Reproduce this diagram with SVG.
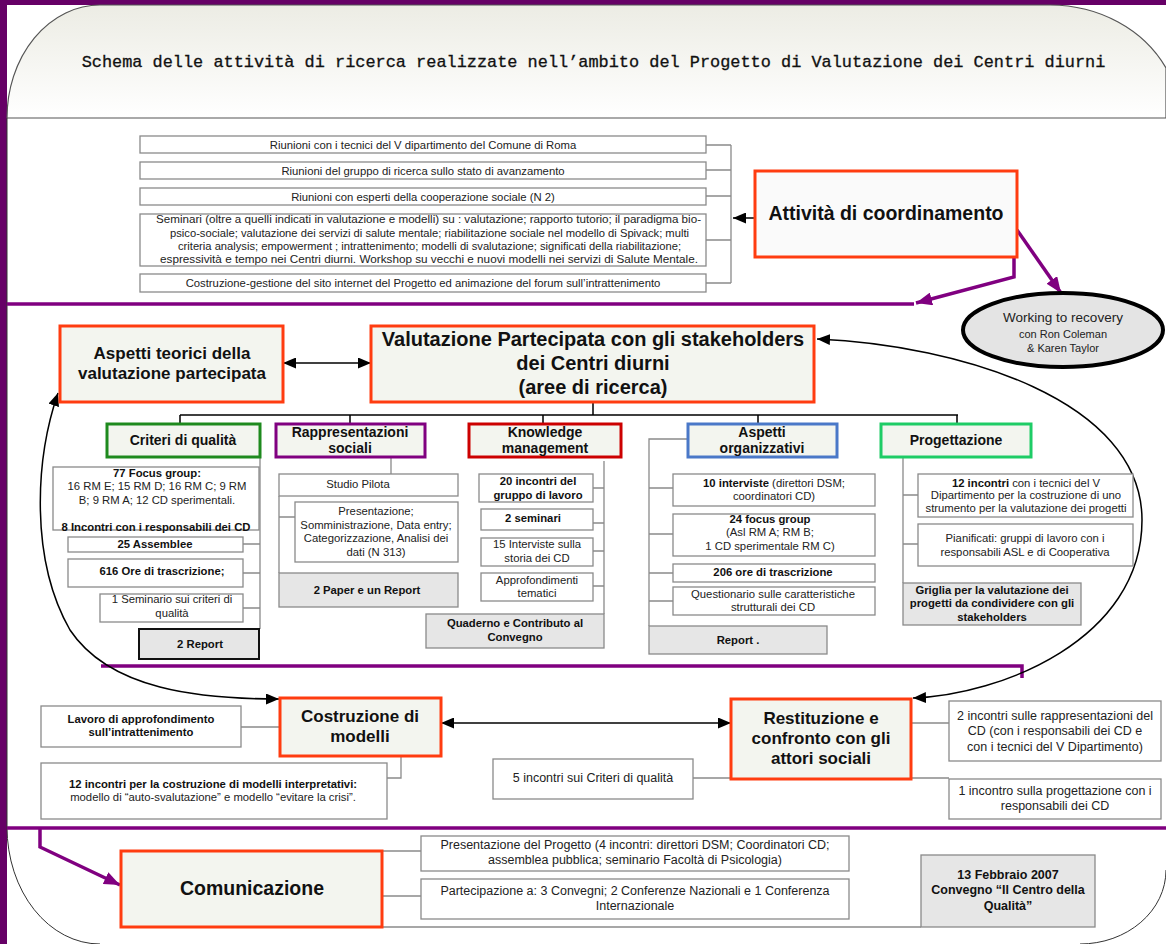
<svg xmlns="http://www.w3.org/2000/svg" width="1166" height="944" viewBox="0 0 1166 944">
<defs>
<linearGradient id="tg" x1="0" y1="0" x2="0" y2="1">
<stop offset="0" stop-color="#ecece4"/>
<stop offset="1" stop-color="#ffffff"/>
</linearGradient>
<marker id="ab" markerUnits="userSpaceOnUse" markerWidth="14" markerHeight="11" refX="13" refY="5.5" orient="auto-start-reverse"><path d="M0,0 L13,5.5 L0,11 z" fill="#000"/></marker>
<marker id="ap" markerUnits="userSpaceOnUse" markerWidth="17" markerHeight="13" refX="16" refY="6.5" orient="auto"><path d="M0,0 L16,6.5 L0,13 z" fill="#800080"/></marker>
<style>
.t{font-family:"Liberation Sans",Arial,sans-serif;font-size:11.3px;fill:#222;text-anchor:middle}
.m{font-size:12.5px}
.b{font-weight:bold;fill:#111}
.h{font-family:"Liberation Sans",Arial,sans-serif;font-weight:bold;fill:#111;text-anchor:middle}
.box{fill:#fff;stroke:#8a8a8a;stroke-width:1.3}
.gbox{fill:#e6e6e6;stroke:#8a8a8a;stroke-width:1.3}
.main{fill:#f3f5ef;stroke:#ff3c10;stroke-width:3}
.hd{fill:#f3f5ef;stroke-width:3}
.conn{stroke:#8a8a8a;stroke-width:1.3;fill:none}
.blk{stroke:#000;stroke-width:1.5;fill:none}
.pl{stroke:#800080;stroke-width:3.5;fill:none}
</style>
</defs>
<rect x="0" y="0" width="1166" height="944" fill="#fff"/>
<rect x="0" y="0" width="1166" height="5" fill="#660066"/>
<rect x="0" y="0" width="7" height="944" fill="#660066"/>
<g id="frame">
<path d="M7 118 A93 113 0 0 1 100 5 L1050 5 A130 115 0 0 1 1166 68 L1166 118 Z" fill="url(#tg)" stroke="#555" stroke-width="1.2"/>
<path d="M7 118 L7 827 A93 117 0 0 0 100 944" fill="none" stroke="#333" stroke-width="1"/>
<path d="M1166 870 A86 74 0 0 1 1080 944" fill="none" stroke="#333" stroke-width="1"/>
<text x="593.5" y="67" style="font-family:'Liberation Mono','Courier New',monospace;font-size:16.9px;fill:#111;stroke:#111;stroke-width:0.3" text-anchor="middle">Schema delle attività di ricerca realizzate nell’ambito del Progetto di Valutazione dei Centri diurni</text>
</g>
<g id="connectors">
<path class="pl" d="M7 304 L914 304"/>
<path class="pl" d="M1014 257 L1014 277 L916 303" marker-end="url(#ap)"/>
<path class="pl" d="M1017 230 L1061 293" marker-end="url(#ap)"/>
<path class="pl" d="M101 666 L1022 666 L1022 678"/>
<path class="pl" d="M7 828 L1166 828"/>
<path class="pl" d="M40 829 L40 847 L120 885" marker-end="url(#ap)"/>
<path class="conn" d="M706 145 H731 M706 170 H731 M706 196 H731 M706 240 H731 M706 283 H731 M731 145 V283"/>
<path class="blk" d="M755 218 L733 218" marker-end="url(#ab)"/>
<path class="blk" d="M283 363 L371 363" marker-start="url(#ab)" marker-end="url(#ab)"/>
<path class="blk" d="M593 402 V415 M180 415 H958 M180 415 V423 M350 415 V423 M543 415 V423 M758 415 V423 M957 415 V423"/>
<path class="conn" d="M260 457 V629 M243 544 H260 M243 573 H260 M243 608 H260"/>
<path class="conn" d="M391 457 V474 M279 496 V573 M279 517 H295"/>
<path class="conn" d="M604 461 V614 M593 488 H604 M593 523 H604 M593 551 H604 M593 586 H604"/>
<path class="conn" d="M688 439 H649 V626 M649 488 H673 M649 534 H673 M649 573 H673 M649 601 H673"/>
<path class="conn" d="M903 457 V583 M903 495 H918 M903 544 H918"/>
<path class="blk" d="M817 339 C960 345 1142 400 1142 520 C1142 640 1000 695 913 698" marker-start="url(#ab)" marker-end="url(#ab)"/>
<path class="blk" d="M58 393 C35 460 30 560 70 630 C110 690 200 699 279 699" marker-start="url(#ab)" marker-end="url(#ab)"/>
<path class="blk" d="M441 723 L731 723" marker-start="url(#ab)" marker-end="url(#ab)"/>
<path class="conn" d="M241 727 H280 M401 756 V778 H387 M693 778 H731 M911 778 H949 M911 723 H949"/>
<path class="conn" d="M382 851 H421 M382 896 H421 M382 927 H921"/>
</g>
<g id="n-list">
<rect class="box" x="140" y="136" width="566" height="17"/>
<text class="t" x="423" y="148.5">Riunioni con i tecnici del V dipartimento del Comune di Roma</text>
<rect class="box" x="140" y="162" width="566" height="17"/>
<text class="t" x="423" y="174.5">Riunioni del gruppo di ricerca  sullo stato di avanzamento</text>
<rect class="box" x="140" y="188" width="566" height="17"/>
<text class="t" x="423" y="200.5">Riunioni con esperti della cooperazione sociale (N 2)</text>
<rect class="box" x="140" y="214" width="566" height="52"/>
<text class="t" x="156" y="223" style="text-anchor:start" textLength="545" lengthAdjust="spacingAndGlyphs">Seminari  (oltre a quelli indicati in valutazione e modelli) su : valutazione; rapporto tutorio; il paradigma bio-</text>
<text class="t" x="170" y="237" style="text-anchor:start" textLength="519" lengthAdjust="spacingAndGlyphs">psico-sociale; valutazione dei servizi di salute mentale; riabilitazione sociale nel modello di Spivack; multi</text>
<text class="t" x="178" y="250" style="text-anchor:start" textLength="503" lengthAdjust="spacingAndGlyphs">criteria analysis; empowerment ; intrattenimento; modelli di svalutazione; significati della riabilitazione;</text>
<text class="t" x="160" y="263" style="text-anchor:start" textLength="538" lengthAdjust="spacingAndGlyphs">espressività e tempo nei Centri diurni.  Workshop su vecchi e nuovi modelli nei servizi di Salute Mentale.</text>
<rect class="box" x="140" y="274" width="566" height="18"/>
<text class="t" x="423" y="287">Costruzione-gestione del sito internet del Progetto ed animazione del forum sull’intrattenimento</text>
</g>
<g id="n-coord">
<rect x="755" y="171" width="262" height="86" fill="#fafafa" stroke="#ff3c10" stroke-width="3"/>
<text class="h" x="886" y="220" style="font-size:19.5px">Attività di coordinamento</text>
</g>
<g id="n-recovery">
<ellipse cx="1063" cy="330" rx="100" ry="37" fill="#e4e4e4" stroke="#000" stroke-width="4"/>
<text class="t" x="1063" y="322" style="font-size:13.5px">Working to recovery</text>
<text class="t" x="1063" y="338" style="font-size:11px">con Ron Coleman</text>
<text class="t" x="1063" y="352" style="font-size:11px">&amp; Karen Taylor</text>
</g>
<g id="n-teorici">
<rect class="main" x="60" y="326" width="223" height="76"/>
<text class="h" x="172" y="359" style="font-size:17px">Aspetti teorici della</text>
<text class="h" x="172" y="379" style="font-size:17px">valutazione partecipata</text>
</g>
<g id="n-valutazione">
<rect class="main" x="371" y="326" width="443" height="76"/>
<text class="h" x="593" y="346" style="font-size:20px">Valutazione Partecipata con gli stakeholders</text>
<text class="h" x="593" y="370" style="font-size:20px">dei Centri diurni</text>
<text class="h" x="593" y="394" style="font-size:20px">(aree di ricerca)</text>
</g>
<g id="n-criteri">
<rect class="hd" x="107" y="424" width="153" height="33" stroke="#1e8a1e"/>
<text class="h" x="183" y="445" style="font-size:14px">Criteri di qualità</text>
<rect class="box" x="53" y="467" width="206" height="63"/>
<text class="t b" x="157" y="477">77 Focus group:</text>
<text class="t" x="157" y="490">16 RM E; 15 RM D; 16 RM C; 9 RM</text>
<text class="t" x="157" y="504">B; 9 RM A; 12 CD sperimentali.</text>
<text class="t b" x="156" y="531">8 Incontri con i responsabili dei CD</text>
<rect class="box" x="68" y="537" width="175" height="15"/>
<text class="t b" x="155" y="548">25 Assemblee</text>
<rect class="box" x="68" y="559" width="175" height="28"/>
<text class="t b" x="162" y="575">616 Ore di trascrizione;</text>
<rect class="box" x="100" y="594" width="143" height="28"/>
<text class="t" x="172" y="603">1 Seminario sui criteri di</text>
<text class="t" x="172" y="617">qualità</text>
<rect x="139" y="629" width="120" height="30" fill="#e6e6e6" stroke="#111" stroke-width="2"/>
<text class="t b" x="200" y="648">2 Report</text>
</g>
<g id="n-rappresentazioni">
<rect class="hd" x="276" y="424" width="149" height="33" stroke="#800080"/>
<text class="h" x="350" y="437" style="font-size:14px">Rappresentazioni</text>
<text class="h" x="350" y="453" style="font-size:14px">sociali</text>
<rect class="box" x="279" y="474" width="179" height="22"/>
<text class="t" x="358" y="488">Studio Pilota</text>
<rect class="box" x="295" y="502" width="163" height="60"/>
<text class="t" x="376" y="515">Presentazione;</text>
<text class="t" x="376" y="529">Somministrazione, Data entry;</text>
<text class="t" x="376" y="542">Categorizzazione, Analisi dei</text>
<text class="t" x="376" y="556">dati (N 313)</text>
<rect class="gbox" x="279" y="573" width="179" height="34"/>
<text class="t b" x="367" y="594">2 Paper e un Report</text>
</g>
<g id="n-knowledge">
<rect class="hd" x="469" y="424" width="152" height="33" stroke="#cc0000"/>
<text class="h" x="545" y="437" style="font-size:14px">Knowledge</text>
<text class="h" x="545" y="453" style="font-size:14px">management</text>
<rect class="box" x="479" y="474" width="114" height="28"/>
<text class="t b" x="538" y="485">20 incontri del</text>
<text class="t b" x="538" y="499">gruppo di lavoro</text>
<rect class="box" x="481" y="509" width="112" height="21"/>
<text class="t b" x="533" y="522">2 seminari</text>
<rect class="box" x="481" y="538" width="112" height="28"/>
<text class="t" x="537" y="548">15 Interviste sulla</text>
<text class="t" x="537" y="562">storia dei CD</text>
<rect class="box" x="481" y="573" width="112" height="28"/>
<text class="t" x="537" y="584">Approfondimenti</text>
<text class="t" x="537" y="597">tematici</text>
<rect class="gbox" x="426" y="614" width="178" height="34"/>
<text class="t b" x="515" y="627">Quaderno e Contributo al</text>
<text class="t b" x="515" y="641">Convegno</text>
</g>
<g id="n-organizzativi">
<rect class="hd" x="688" y="424" width="149" height="33" stroke="#4a78c8"/>
<text class="h" x="762" y="437" style="font-size:14px">Aspetti</text>
<text class="h" x="762" y="453" style="font-size:14px">organizzativi</text>
<rect class="box" x="673" y="474" width="202" height="32"/>
<text class="t" x="774" y="487"><tspan class="b">10 interviste</tspan> (direttori DSM;</text>
<text class="t" x="774" y="500">coordinatori CD)</text>
<rect class="box" x="673" y="514" width="202" height="42"/>
<text class="t b" x="770" y="523">24 focus group</text>
<text class="t" x="770" y="536">(Asl RM A; RM B;</text>
<text class="t" x="770" y="550">1 CD sperimentale RM C)</text>
<rect class="box" x="673" y="564" width="202" height="18"/>
<text class="t b" x="773" y="576">206 ore di trascrizione</text>
<rect class="box" x="673" y="587" width="202" height="28"/>
<text class="t" x="773" y="598">Questionario sulle caratteristiche</text>
<text class="t" x="773" y="611">strutturali dei CD</text>
<rect class="gbox" x="649" y="626" width="178" height="28"/>
<text class="t b" x="738" y="644">Report .</text>
</g>
<g id="n-progettazione">
<rect class="hd" x="881" y="424" width="150" height="33" stroke="#1ecc66"/>
<text class="h" x="956" y="445" style="font-size:14px">Progettazione</text>
<rect class="box" x="918" y="474" width="215" height="43"/>
<text class="t" x="1026" y="487"><tspan class="b">12 incontri</tspan> con i tecnici del V</text>
<text class="t" x="1026" y="499">Dipartimento per la costruzione di uno</text>
<text class="t" x="1026" y="512">strumento per la valutazione dei progetti</text>
<rect class="box" x="918" y="524" width="215" height="42"/>
<text class="t" x="1025" y="542">Pianificati:  gruppi di lavoro con i</text>
<text class="t" x="1025" y="556">responsabili ASL e di Cooperativa</text>
<rect class="gbox" x="903" y="583" width="178" height="42"/>
<text class="t b" x="992" y="594">Griglia per la valutazione dei</text>
<text class="t b" x="992" y="607">progetti da condividere con gli</text>
<text class="t b" x="992" y="621">stakeholders</text>
</g>
<g id="n-costruzione">
<rect class="main" x="280" y="698" width="161" height="58"/>
<text class="h" x="360" y="722" style="font-size:17px">Costruzione di</text>
<text class="h" x="360" y="742" style="font-size:17px">modelli</text>
<rect class="box" x="41" y="706" width="200" height="41"/>
<text class="t b" x="141" y="723">Lavoro di approfondimento</text>
<text class="t b" x="141" y="736">sull’intrattenimento</text>
<rect class="box" x="41" y="763" width="346" height="56"/>
<text class="t b" x="213" y="788">12 incontri per la costruzione di modelli interpretativi:</text>
<text class="t" x="213" y="801">modello di “auto-svalutazione” e modello “evitare la crisi”.</text>
</g>
<g id="n-restituzione">
<rect class="main" x="731" y="699" width="180" height="80"/>
<text class="h" x="821" y="724" style="font-size:17px">Restituzione e</text>
<text class="h" x="821" y="744" style="font-size:17px">confronto con gli</text>
<text class="h" x="821" y="764" style="font-size:17px">attori sociali</text>
<rect class="box" x="493" y="759" width="200" height="40"/>
<text class="t m" x="593" y="782">5 incontri sui Criteri di qualità</text>
<rect class="box" x="949" y="701" width="212" height="60"/>
<text class="t m" x="1055" y="719.5">2 incontri sulle rappresentazioni del</text>
<text class="t m" x="1055" y="734.5">CD (con i responsabili dei CD e</text>
<text class="t m" x="1055" y="750.5">con i tecnici del V Dipartimento)</text>
<rect class="box" x="949" y="779" width="212" height="40"/>
<text class="t m" x="1055" y="795">1 incontro sulla progettazione con i</text>
<text class="t m" x="1055" y="810">responsabili dei CD</text>
</g>
<g id="n-comunicazione">
<rect class="main" x="121" y="851" width="261" height="76"/>
<text class="h" x="252" y="895" style="font-size:19.5px">Comunicazione</text>
<rect class="box" x="421" y="836" width="428" height="35"/>
<text class="t m" x="635" y="849">Presentazione del Progetto (4 incontri: direttori DSM; Coordinatori CD;</text>
<text class="t m" x="635" y="864">assemblea pubblica; seminario Facoltà di Psicologia)</text>
<rect class="box" x="421" y="879" width="428" height="40"/>
<text class="t m" x="635" y="895">Partecipazione a: 3 Convegni; 2 Conferenze Nazionali e 1 Conferenza</text>
<text class="t m" x="635" y="910">Internazionale</text>
<rect class="gbox" x="921" y="855" width="174" height="72"/>
<text class="t m b" x="1008" y="879">13 Febbraio 2007</text>
<text class="t m b" x="1008" y="894">Convegno “Il Centro della</text>
<text class="t m b" x="1008" y="910">Qualità”</text>
</g>
</svg>
